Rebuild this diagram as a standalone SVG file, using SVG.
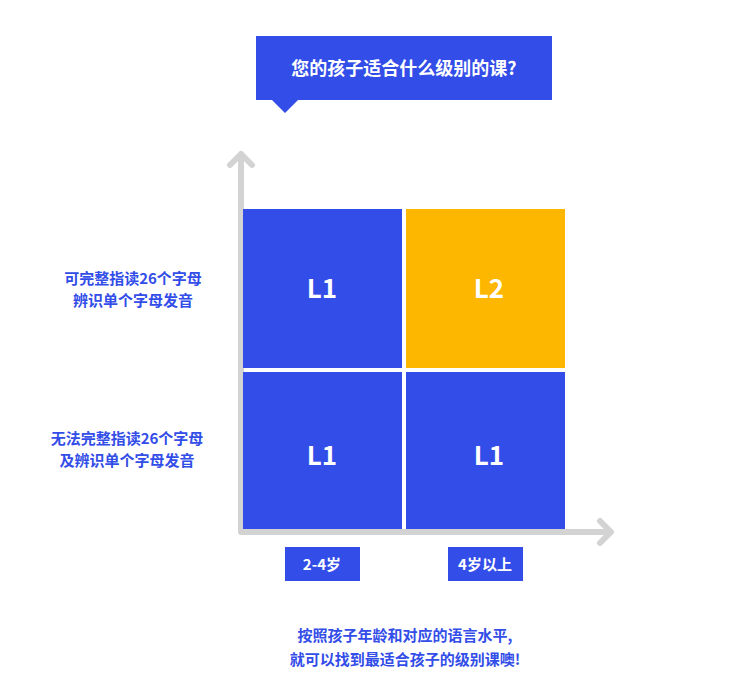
<svg xmlns="http://www.w3.org/2000/svg" width="753" height="693" viewBox="0 0 753 693">
<style>
text{font-family:"Noto Sans CJK SC","Noto Sans",sans-serif;font-weight:bold;text-anchor:middle}
.b{fill:#324de8}.y{fill:#fdb700}
.w{fill:#fff}
.lv{font-size:26px;fill:#fff}
.side{font-size:15px;fill:#324de8}
.ax{stroke:#d3d3d3;stroke-width:6;fill:none;stroke-linecap:round;stroke-linejoin:round}
</style>
<rect width="753" height="693" fill="#fff"/>
<g id="bubble">
<path class="b" d="M256 36H552V100H298L285 113L272 100H256Z"/>
<text x="404" y="75" class="w" font-size="18">您的孩子适合什么级别的课?</text>
</g>
<g id="connectors">
<path class="ax" d="M241 154V532H610M230 165L241 154L252 165M600 521L611 532L600 543"/>
</g>
<g id="c11"><rect class="b" x="243" y="209" width="159" height="159"/><text x="322" y="298" class="lv">L1</text></g>
<g id="c12"><rect class="y" x="406" y="209" width="159" height="159"/><text x="489" y="298" class="lv">L2</text></g>
<g id="c21"><rect class="b" x="243" y="372" width="159" height="157"/><text x="322" y="465" class="lv">L1</text></g>
<g id="c22"><rect class="b" x="406" y="372" width="159" height="157"/><text x="489" y="465" class="lv">L1</text></g>
<g id="ylab1"><text x="133" y="284" class="side">可完整指读26个字母</text><text x="133" y="306" class="side">辨识单个字母发音</text></g>
<g id="ylab2"><text x="127" y="444" class="side">无法完整指读26个字母</text><text x="127" y="466" class="side">及辨识单个字母发音</text></g>
<g id="x1"><rect class="b" x="285" y="547" width="75" height="34"/><text x="322" y="570" class="w" font-size="15">2-4岁</text></g>
<g id="x2"><rect class="b" x="448" y="547" width="75" height="34"/><text x="485" y="570" class="w" font-size="15">4岁以上</text></g>
<g id="foot"><text x="405" y="641" class="side" font-size="18">按照孩子年龄和对应的语言水平,</text><text x="405" y="665" class="side" font-size="18">就可以找到最适合孩子的级别课噢!</text></g>
</svg>
